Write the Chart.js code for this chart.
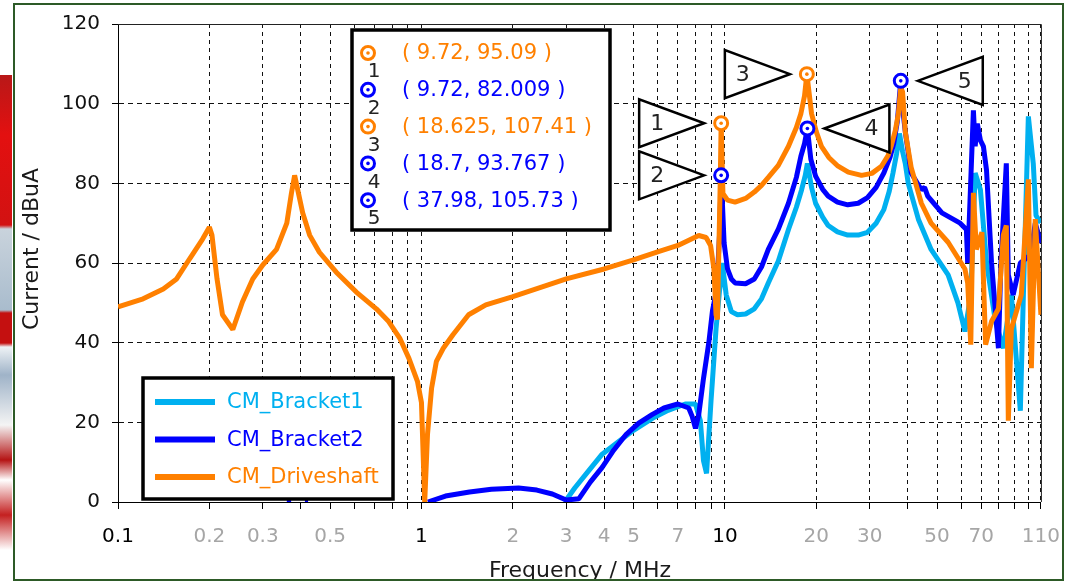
<!DOCTYPE html>
<html lang="en">

<head>
  <meta charset="UTF-8" />
  <title>CM current spectrum</title>
  <script src="https://cdn.jsdelivr.net/npm/chart.js@4.4.1/dist/chart.umd.min.js"></script>
  <style>
    body { margin: 0; background: #fff; }
    .wrap { position: relative; width: 1076px; height: 582px; overflow: hidden; }
    .strip {
      position: absolute; left: 0; top: 75px; width: 12px; height: 480px;
      background: linear-gradient(to bottom, #b81818 0, #e31010 60px, #d21212 150px, #c9d3dc 154px, #a9bccd 235px,
        #c41010 238px, #c41010 268px, #eef2f5 272px, #9fb3c8 300px, #f4f4f4 350px, #b51414 385px, #fff 405px,
        #c42020 440px, #fff 475px);
    }
    canvas { position: absolute; left: 0; top: 0; }
    .frame {
      position: absolute; left: 13px; top: 3px; width: 1051px; height: 578px;
      border: 2px solid #2d5a27; box-sizing: border-box; pointer-events: none;
    }
  </style>
</head>

<body>
  <div class="wrap">
    <div class="strip"></div>
    <canvas id="chart" width="1076" height="582"></canvas>
    <div class="frame"></div>
  </div>

  <script>
    // axis ticks
    const xTicks = [0.1, 0.2, 0.3, 0.4, 0.5, 0.6, 0.7, 0.8, 0.9,
      1, 2, 3, 4, 5, 6, 7, 8, 9,
      10, 20, 30, 40, 50, 60, 70, 80, 90, 100, 110];
    const xTickLabels = ['0.1', '0.2', '0.3', '', '0.5', '', '', '', '',
      '1', '2', '3', '4', '5', '', '7', '', '',
      '10', '20', '30', '', '50', '', '70', '', '', '', '110'];
    const darkTicks = [0.1, 1, 10];
    const yTicks = [0, 20, 40, 60, 80, 100, 120];

    const seriesNames = ['CM_Bracket1', 'CM_Bracket2', 'CM_Driveshaft'];
    const seriesColors = ['#00b0f0', '#0000ff', '#ff8000'];

    // CM_Bracket1
    const cyanFreq = [2.95, 3.0, 3.2, 3.5, 3.94, 4.5, 5.0, 5.77, 6.5, 7.4, 8.0, 8.3, 8.5, 8.7, 9.0, 9.35, 9.6, 9.72, 9.8,
      10.1, 10.5, 11.0, 11.7, 12.5, 13.2, 13.9, 15.0, 16.2, 17.2, 17.9, 18.4, 18.7, 19.3, 19.9, 21.0, 21.9, 23.5,
      25.4, 27.5, 29.5, 31.5, 33.4, 34.8, 35.8, 36.8, 37.6, 38.5, 39.3, 40.2, 43.4, 47.8, 54.4, 58.6, 61.8, 64.6,
      66.8, 69.5, 72.8, 77.9, 82.7, 87.9, 94.1, 96.3, 100, 103.8, 106, 110];
    const cyanVal = [0, 0.5, 3.5, 7.2, 12, 15.4, 18, 21, 23, 24.6, 24.6, 20.4, 10.4, 7.2, 25.4, 43.5, 53, 56, 60,
      52, 47.8, 47, 47.2, 48.5, 51, 55, 60.5, 68.4, 74, 78.4, 82, 85, 79, 75, 71.5, 69.4, 67.8,
      67, 67, 67.7, 70, 73.4, 78, 82.6, 87.5, 92.5, 88, 85, 80, 71, 63.4, 57, 50, 42.8, 52,
      82.6, 78.4, 60.2, 45.3, 38.6, 52, 22.9, 52, 96.8, 85, 71.9, 70.1];

    // CM_Bracket2 (null = gap)
    const blueFreq = [0.36, 0.372, 0.39, 0.413, 0.423, 0.6,
      1.05, 1.2, 1.44, 1.7, 2.09, 2.4, 2.7, 3.0, 3.3, 3.6, 3.94, 4.3, 4.73, 5.2, 5.77, 6.3, 7.0, 7.6, 7.8, 8.0,
      8.2, 8.5, 8.85, 9.1, 9.4, 9.6, 9.72, 9.8, 9.94, 10.2, 10.5, 10.8, 11.7, 12.5, 13.2, 13.9, 15.0, 16.2,
      17.2, 17.8, 18.3, 18.7, 19.2, 19.9, 21.0, 21.9, 23.5, 25.4, 27.5, 29.5, 31.5, 33.4, 35.0, 36.0, 37.0,
      37.98, 38.5, 39.3, 41.1, 44.4, 45.5, 46.6, 51.9, 59.6, 62.5, 63.1, 65.9, 66.8, 67.9, 69.5, 71.1, 72.8,
      75.6, 79.7, 81.2, 84.6, 85.9, 89.1, 94.1, 101.5, 105.4, 110];
    const blueVal = [0.3, 0.3, null, 0.3, 0.3, null,
      0, 1.5, 2.5, 3.2, 3.5, 3, 2, 0.5, 0.8, 5, 8.7, 13, 17, 19.8, 22, 23.6, 24.6, 23.6, 21.5, 18.5,
      22, 31, 40, 48, 53.5, 67, 82.009, 76, 65, 58.5, 56, 55, 54.8, 56, 59, 63.4, 68.5, 75,
      81.5, 86.8, 90, 93.767, 86, 81.8, 78.5, 76.8, 75.3, 74.6, 75, 76.4, 79, 82.6, 86.5, 90, 95.5,
      105.73, 99, 93, 82.6, 78.4, 79, 76.8, 72.6, 70, 68.4, 60, 98.3, 89.3, 95, 90.8, 89.3, 83.3,
      60.2, 38.6, 60, 85, 57, 52, 60, 62, 70, 65];

    // CM_Driveshaft
    const orangeFreq = [0.1, 0.121, 0.141, 0.156, 0.172, 0.19, 0.2, 0.204, 0.212, 0.221, 0.239, 0.257, 0.278,
      0.3, 0.333, 0.36, 0.373, 0.382, 0.406, 0.428, 0.461, 0.524, 0.61, 0.71, 0.78, 0.85, 0.91, 0.97, 1.0,
      1.025, 1.047, 1.08, 1.12, 1.18, 1.27, 1.43, 1.63, 1.99, 2.5, 3.0, 4.0, 4.97, 6.0, 7.0, 8.2, 8.67,
      8.97, 9.2, 9.35, 9.45, 9.65, 9.72, 9.85, 10.2, 10.8, 11.7, 12.5, 13.2, 13.9, 15.0, 16.2, 17.2, 17.8,
      18.3, 18.625, 19.3, 20.0, 20.8, 22.0, 23.6, 25.5, 28.2, 30.5, 32.8, 34.5, 35.3, 36.5, 37.3, 37.98,
      38.5, 39.3, 41.1, 44.4, 47.8, 54.4, 61.8, 63.1, 64.6, 65.9, 67.4, 70.3, 72.3, 75.6, 79.7, 82.7, 84.6,
      85.9, 87.9, 94.8, 100, 102.3, 105.4, 110];
    const orangeVal = [49, 51, 53.5, 56, 61, 66, 69, 67, 56, 47, 43.3, 50.2, 56,
      59.5, 63.4, 70, 77.6, 82, 72.6, 67, 62.7, 57.7, 52.7, 48.5, 45.3, 41, 36, 30.3, 25,
      0, 17, 28.6, 35.3, 38.6, 42, 47, 49.5, 51.5, 54, 56, 58.5, 60.7, 62.8, 64.4, 66.9, 66.4,
      64.4, 58.5, 47, 45.8, 80, 95.09, 77.5, 75.8, 75.3, 76.2, 77.8, 79.5, 81.5, 84.5, 89.3, 94, 97.5,
      102, 107.41, 97.5, 93, 89.3, 86.5, 84.3, 82.8, 82, 82.5, 84.3, 87, 89.3, 93.5, 97.5, 104,
      103, 93, 84, 75, 70, 65.2, 58.5, 55, 39.5, 77.6, 63.4, 67.7, 39.5, 45.3, 48.5, 67, 69.4,
      20.4, 43.5, 52, 81, 33.6, 71, 47];

    // markers 1..5
    const markerFreq = [9.72, 9.72, 18.625, 18.7, 37.98];
    const markerVal = [95.09, 82.009, 107.41, 93.767, 105.73];
    const markerSeries = [2, 1, 2, 1, 1];
    const markerFlagSide = ['left', 'left', 'left', 'right', 'right'];

    const FONT = '"DejaVu Sans", Verdana, sans-serif';

    function makeSet(i, freqs, vals) {
      return {
        label: seriesNames[i],
        data: freqs.map((f, k) => ({ x: f, y: vals[k] })),
        borderColor: seriesColors[i],
        backgroundColor: seriesColors[i],
        borderWidth: 5,
        borderJoinStyle: 'bevel',
        pointRadius: 0,
        tension: 0,
        spanGaps: false,
        order: 3 - i,
      };
    }

    function drawFlag(ctx, mx, my, side, label) {
      const dir = side === 'left' ? -1 : 1;
      const tipX = mx + dir * 17, baseX = mx + dir * 82;
      ctx.beginPath();
      ctx.moveTo(tipX, my);
      ctx.lineTo(baseX, my - 24);
      ctx.lineTo(baseX, my + 24);
      ctx.closePath();
      ctx.fillStyle = '#fff';
      ctx.fill();
      ctx.lineWidth = 2.5;
      ctx.strokeStyle = '#000';
      ctx.stroke();
      ctx.fillStyle = '#222';
      ctx.font = '22px ' + FONT;
      ctx.textAlign = 'center';
      ctx.textBaseline = 'middle';
      ctx.fillText(label, baseX - dir * 18, my + 1);
    }

    function drawMarker(ctx, mx, my, color) {
      ctx.beginPath();
      ctx.arc(mx, my, 6.5, 0, Math.PI * 2);
      ctx.fillStyle = '#fff';
      ctx.fill();
      ctx.lineWidth = 3;
      ctx.strokeStyle = color;
      ctx.stroke();
      ctx.beginPath();
      ctx.arc(mx, my, 1.8, 0, Math.PI * 2);
      ctx.fillStyle = color;
      ctx.fill();
    }

    const decorations = {
      id: 'decorations',
      afterDatasetsDraw(chart) {
        const { ctx, chartArea: a, scales: { x, y } } = chart;
        ctx.save();

        // top / right frame of the plot
        ctx.strokeStyle = '#222';
        ctx.lineWidth = 1;
        ctx.beginPath();
        ctx.moveTo(a.left, a.top + 0.5);
        ctx.lineTo(a.right + 0.5, a.top + 0.5);
        ctx.lineTo(a.right + 0.5, a.bottom);
        ctx.stroke();

        // marker flags and circles
        markerFreq.forEach((f, i) => {
          const mx = x.getPixelForValue(f);
          const my = y.getPixelForValue(markerVal[i]);
          drawFlag(ctx, mx, my, markerFlagSide[i], String(i + 1));
          drawMarker(ctx, mx, my, seriesColors[markerSeries[i]]);
        });

        // legend box
        ctx.fillStyle = '#fff';
        ctx.fillRect(143, 378, 250, 121);
        ctx.lineWidth = 3.5;
        ctx.strokeStyle = '#000';
        ctx.strokeRect(143, 378, 250, 121);
        ctx.font = '21px ' + FONT;
        ctx.textAlign = 'left';
        ctx.textBaseline = 'middle';
        chart.data.datasets.forEach((ds, i) => {
          const ly = 402 + i * 37.5;
          ctx.beginPath();
          ctx.moveTo(155, ly);
          ctx.lineTo(215, ly);
          ctx.lineWidth = 6;
          ctx.strokeStyle = ds.borderColor;
          ctx.stroke();
          ctx.fillStyle = ds.borderColor;
          ctx.fillText(ds.label, 227, ly + 1);
        });

        // marker table
        ctx.fillStyle = '#fff';
        ctx.fillRect(352, 30, 258, 200);
        ctx.lineWidth = 3.5;
        ctx.strokeStyle = '#000';
        ctx.strokeRect(352, 30, 258, 200);
        markerFreq.forEach((f, i) => {
          const ry = 53 + i * 36.8;
          const col = seriesColors[markerSeries[i]];
          drawMarker(ctx, 368, ry, col);
          ctx.font = '20px ' + FONT;
          ctx.textAlign = 'center';
          ctx.textBaseline = 'middle';
          ctx.fillStyle = '#222';
          ctx.fillText(String(i + 1), 374, ry + 19);
          ctx.font = '21px ' + FONT;
          ctx.textAlign = 'left';
          ctx.fillStyle = col;
          ctx.fillText('( ' + f + ', ' + markerVal[i] + ' )', 402, ry + 1);
        });

        // axis titles
        ctx.fillStyle = '#1a1a1a';
        ctx.font = '22px ' + FONT;
        ctx.textAlign = 'center';
        ctx.textBaseline = 'alphabetic';
        ctx.fillText('Frequency / MHz', 580, 577);
        ctx.translate(38, 249);
        ctx.rotate(-Math.PI / 2);
        ctx.fillText('Current / dBuA', 0, 0);

        ctx.restore();
      }
    };

    const ctx = document.getElementById('chart').getContext('2d');
    const myChart = new Chart(ctx, {
      type: 'line',
      data: {
        datasets: [
          makeSet(0, cyanFreq, cyanVal),
          makeSet(1, blueFreq, blueVal),
          makeSet(2, orangeFreq, orangeVal),
        ],
      },
      options: {
        responsive: false,
        animation: false,
        devicePixelRatio: 1,
        layout: { padding: { left: 0, right: 34, top: 19, bottom: 0 } },
        plugins: { legend: { display: false }, tooltip: { enabled: false } },
        scales: {
          x: {
            type: 'logarithmic',
            min: 0.1,
            max: 110,
            bounds: 'data',
            afterBuildTicks: (s) => { s.ticks = xTicks.map((v) => ({ value: v })); },
            afterFit: (s) => { s.height = 80; },
            ticks: {
              autoSkip: false,
              maxRotation: 0,
              minRotation: 0,
              padding: 16,
              font: { family: FONT, size: 20 },
              color: (c) => (c.tick && darkTicks.includes(c.tick.value) ? '#000' : '#a6a6a6'),
              callback: (v, i) => xTickLabels[i],
            },
            grid: { color: '#111', lineWidth: 1, tickLength: 7, tickColor: '#000', tickWidth: 1, tickBorderDash: [] },
            border: { color: '#000', width: 1, dash: [4, 4] },
          },
          y: {
            min: 0,
            max: 120,
            afterBuildTicks: (s) => { s.ticks = yTicks.map((v) => ({ value: v })); },
            afterFit: (s) => { s.width = 118; },
            ticks: { padding: 12, font: { family: FONT, size: 20 }, color: '#111' },
            grid: { color: '#111', lineWidth: 1, tickLength: 6, tickColor: '#000', tickWidth: 1, tickBorderDash: [] },
            border: { color: '#000', width: 1, dash: [5, 4] },
          },
        },
      },
      plugins: [decorations],
    });
  </script>
</body>

</html>
